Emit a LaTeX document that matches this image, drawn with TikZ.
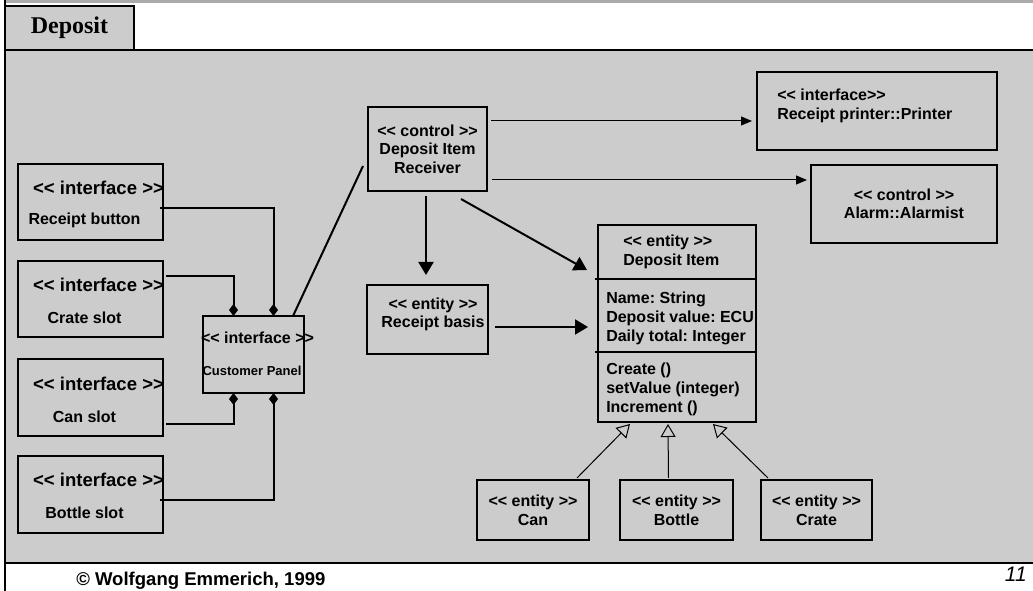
\documentclass[tikz,border=0pt]{standalone}
\usepackage{fontspec}
\setmainfont{Liberation Sans}
\newfontfamily\titlefont{Liberation Serif}
\usetikzlibrary{arrows.meta,calc}
\definecolor{panelgray}{RGB}{204,204,204}
\definecolor{bandgray}{RGB}{170,170,170}
\frenchspacing
\begin{document}
\begin{tikzpicture}[x=0.75pt,y=-0.75pt,
  box/.style 2 args={draw, line width=1.5pt, minimum width=#1*0.75pt,
    minimum height=#2*0.75pt, inner sep=0pt, outer sep=0pt},
  lbl/.style={font=\fontsize{12}{13.9}\selectfont\bfseries, inner sep=0pt, align=center},
  cls/.style={font=\fontsize{12}{14.25}\selectfont\bfseries, inner sep=0pt, align=left},
  stereo/.style={font=\fontsize{13.9}{16}\selectfont\bfseries, inner sep=0pt},
  small/.style={font=\fontsize{9.75}{11}\selectfont\bfseries, inner sep=0pt},
  compo/.style={line width=1.5pt, -{Diamond[length=9pt,width=6.75pt]}},
  assoc/.style={line width=1.5pt, -{Triangle[length=9.75pt,width=11.25pt]}},
  thinassoc/.style={line width=0.75pt, -{Triangle[length=8.25pt,width=6.75pt]}},
  gen/.style={line width=0.75pt, -{Triangle[open,length=9.75pt,width=11.25pt]}},
  link/.style={line width=1.5pt},
]
\useasboundingbox (0,0) rectangle (1033,591);

% slide frame
\fill[bandgray] (5,0) rectangle (1033,3);
\fill[panelgray] (5,50) rectangle (1034,563);
\draw[line width=1.5pt] (5,50) -- (1034,50);
\draw[line width=1.5pt] (5,563) -- (1034,563);
\node[box={129}{44}, fill=panelgray, font=\titlefont\fontsize{18}{20}\selectfont\bfseries]
  (tab) at (69.5,28) {Deposit};
\draw[line width=1.5pt] (5,0) -- (5,591);

% interface boxes on the left
\node[box={145}{76}] (rb) at (90.5,202) {};
\node[box={145}{76}] (cs) at (90.5,299.5) {};
\node[box={145}{77}] (cn) at (90.5,398) {};
\node[box={145}{77}] (bs) at (90.5,494.5) {};
\foreach \b/\t in {rb/Receipt button, cs/Crate slot, cn/Can slot, bs/Bottle slot}{
  \node[stereo] (\b-s) at ($(\b)+(8,-14.5)$) {<{}< interface >{}>};
  \node[lbl] (\b-n) at ($(\b)+(-6,18.5)$) {\t};
}

% customer panel
\node[box={101}{77}] (cp) at (253.5,354.5) {};
\node[lbl] (cp-s) at ($(cp)+(4,-16.5)$) {<{}< interface >{}>};
\node[small] (cp-n) at ($(cp)+(-1.5,16.5)$) {Customer Panel};

\draw[compo] ($(rb.east)+(-3,6)$) -| ($(cp.north)+(20,0)$);
\draw[compo] ($(cs.east)+(3,-23.5)$) -| ($(cp.north)+(-20,0)$);
\draw[compo] ($(cn.east)+(3,26)$) -| ($(cp.south)+(-20,0)$);
\draw[compo] ($(bs.east)+(-3,5.5)$) -| ($(cp.south)+(20,0)$);

% control and entity classes
\node[box={119}{84}, lbl, font=\fontsize{12}{13.9}\selectfont\bfseries]
  (recv) at (427.5,149) {<{}< control >{}>\\Deposit Item\\Receiver};
\node[box={121}{69}] (rbasis) at (427.5,319.5) {};
\node[lbl] (rbasis-t) at (433,314.5) {<{}< entity >{}>\\Receipt basis};

\node[box={240}{78}] (printer) at (877,111) {};
\node[cls, anchor=west] (printer-t) at (777,106) {<{}< interface>{}>\\Receipt printer::Printer};
\node[box={186}{78}, lbl] (alarm) at (904,204) {<{}< control >{}>\\Alarm::Alarmist};

\node[box={158}{197}] (di) at (677,323.5) {};
\draw[line width=1.5pt] ($(di.north west)+(-3,54)$) -- ($(di.north east)+(0,54)$);
\draw[line width=1.5pt] ($(di.north west)+(-3,127)$) -- ($(di.north east)+(0,127)$);
\node[cls, anchor=west] (di-h) at (623,251.5) {<{}< entity >{}>\\Deposit Item};
\node[cls, anchor=west] (di-a) at (606,318) {Name: String\\Deposit value: ECU\\Daily total: Integer};
\node[cls, anchor=west] (di-m) at (606,389) {Create ()\\setValue (integer)\\Increment ()};

\node[box={112}{60}, lbl, font=\fontsize{12}{14.25}\selectfont\bfseries] (can) at (533,510) {<{}< entity >{}>\\Can};
\node[box={113}{60}, lbl, font=\fontsize{12}{14.25}\selectfont\bfseries] (bottle) at (676.5,510) {<{}< entity >{}>\\Bottle};
\node[box={111}{60}, lbl, font=\fontsize{12}{14.25}\selectfont\bfseries] (crate) at (816.5,510) {<{}< entity >{}>\\Crate};

% associations
\draw[link] ($(cp.north east)+(-11,0)$) -- ($(recv.west)+(-5,17)$);
\draw[assoc] ($(recv.south)+(-1.5,5)$) -- ($(rbasis.north)+(-1.5,-10)$);
\draw[assoc] ($(recv.south east)+(-26,8)$) -- ($(di.north west)+(-11,45)$);
\draw[assoc] ($(rbasis.east)+(7,7.5)$) -- ($(di.west)+(-10,3.5)$);
\draw[thinassoc] ($(recv.north east)+(4,14)$) -- ($(printer.west)+(-5,10)$);
\draw[thinassoc] ($(recv.south east)+(5,-11)$) -- ($(alarm.west)+(-4,-24)$);

% generalisations
\draw[gen] ($(can.north east)+(-12,-2)$) -- ($(di.south west)+(32,2)$);
\draw[gen] ($(bottle.north)+(-8,-2)$) -- ($(di.south)+(-9,2)$);
\draw[gen] ($(crate.north west)+(7,-2)$) -- ($(di.south east)+(-43,2)$);

% footer
\node[anchor=base west, inner sep=0pt, font=\fontsize{13.9}{16}\selectfont\bfseries]
  (copy) at (76,586) {© Wolfgang Emmerich, 1999};
\node[anchor=base east, inner sep=0pt, font=\fontsize{15.75}{18}\selectfont\itshape]
  (pageno) at (1027,582) {11};
\end{tikzpicture}
\end{document}
